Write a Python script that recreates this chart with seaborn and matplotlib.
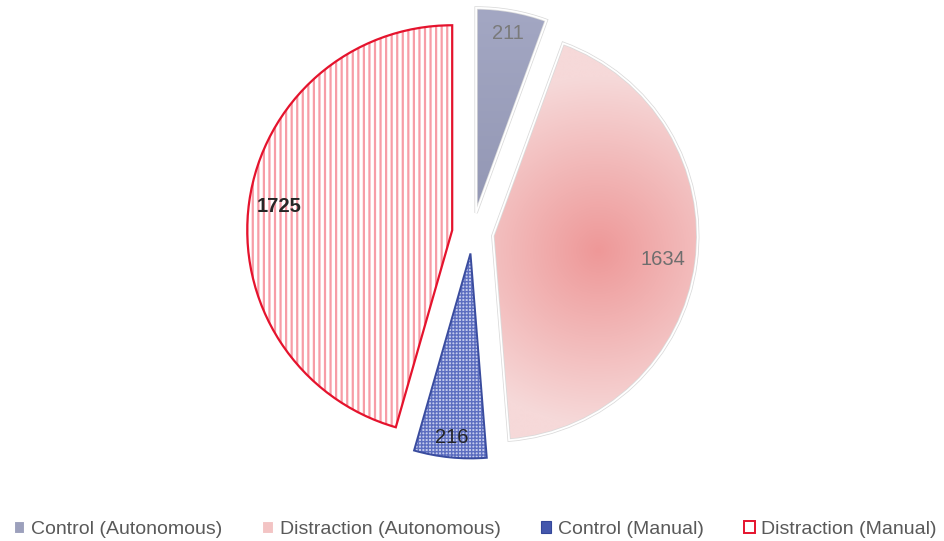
import numpy as np
import matplotlib
matplotlib.use("Agg")
import matplotlib.pyplot as plt
import seaborn as sns
from matplotlib.colors import LinearSegmentedColormap
from matplotlib.patches import Patch, Wedge

# Counts per condition
categories = ["Control (Autonomous)", "Distraction (Autonomous)",
              "Control (Manual)", "Distraction (Manual)"]
counts = [211, 1634, 216, 1725]

sns.set_theme(style="white")
plt.rcParams["font.family"] = ["Liberation Sans", "DejaVu Sans"]
plt.rcParams["hatch.linewidth"] = 1.5

fig = plt.figure(figsize=(9.45, 5.41), dpi=100)
ax = fig.add_axes([0.218, 0.0767, 0.564, 0.985])

wedges, _ = ax.pie(counts, startangle=90, counterclock=False,
                   explode=[0.1] * 4, radius=1.0)
ax.set_xlim(-1.3, 1.3)
ax.set_ylim(-1.3, 1.3)
ax.set_aspect("equal")
ax.axis("off")

# grid for gradient fills
n = 600
xs = np.linspace(-1.3, 1.3, n)
ys = np.linspace(1.3, -1.3, n)
X, Y = np.meshgrid(xs, ys)


def outline(w, color, lw, z=3):
    p = Wedge(w.center, w.r, w.theta1, w.theta2, fill=False,
              edgecolor=color, linewidth=lw, zorder=z)
    ax.add_patch(p)
    return p


def hatch_width(p, lw):
    if hasattr(p, "set_hatch_linewidth"):
        p.set_hatch_linewidth(lw)


# slice 1: vertical blue-grey gradient
w = wedges[0]
w.set_facecolor("#9CA0BC")
w.set_edgecolor("none")
cm1 = LinearSegmentedColormap.from_list("g1", ["#A3A7C3", "#9397B4"])
t = np.clip((1.1 - Y) / 1.0, 0, 1)
im = ax.imshow(cm1(t), extent=(-1.3, 1.3, -1.3, 1.3), zorder=1.5,
               interpolation="bilinear")
im.set_clip_path(w)
outline(w, "#DADADA", 2.4, 2.5)
outline(w, "white", 1.3)

# slice 2: radial pink gradient
w = wedges[1]
w.set_facecolor("#F3C4C4")
w.set_edgecolor("none")
mid = np.deg2rad((w.theta1 + w.theta2) / 2)
fx = w.center[0] + 0.52 * np.cos(mid)
fy = w.center[1] + 0.52 * np.sin(mid)
d = np.clip(np.hypot(X - fx, Y - fy) / 0.85, 0, 1)
cm2 = LinearSegmentedColormap.from_list("g2", ["#EE9898", "#F2B8B8", "#F6D9D9"])
im = ax.imshow(cm2(d), extent=(-1.3, 1.3, -1.3, 1.3), zorder=1.5,
               interpolation="bilinear")
im.set_clip_path(w)
outline(w, "#DADADA", 2.4, 2.5)
outline(w, "white", 1.3)

# slice 3: fine blue crosshatch with dark blue border
w = wedges[2]
w.set_facecolor("#C4CBEC")
w.set_edgecolor("#5D6EC0")
w.set_hatch("+++++")
w.set_linewidth(0)
hatch_width(w, 1.0)
outline(w, "#3A4C9E", 1.4)

# slice 4: red vertical stripes with strong red border
w = wedges[3]
w.set_facecolor("white")
w.set_edgecolor("#F79DA7")
w.set_hatch("|||")
w.set_linewidth(0)
hatch_width(w, 1.6)
outline(w, "#E5132D", 1.6)

# value labels
label_dist = [0.89, 0.84, 0.90, 0.85]
label_style = [dict(color="#7A7A7A"), dict(color="#6E6E6E"),
               dict(color="#262626"), dict(color="#262626", fontweight="bold")]
for w, v, dist, st in zip(wedges, counts, label_dist, label_style):
    a = np.deg2rad((w.theta1 + w.theta2) / 2)
    ax.text(w.center[0] + dist * np.cos(a), w.center[1] + dist * np.sin(a),
            str(v), ha="center", va="center", fontsize=14.5, zorder=5, **st)

handles = [
    Patch(facecolor="#9CA0BC", edgecolor="white", linewidth=0.8),
    Patch(facecolor="#F3C4C4", edgecolor="white", linewidth=0.8),
    Patch(facecolor="#4457AD", edgecolor="#34479A", linewidth=0.8),
    Patch(facecolor="white", edgecolor="#E5132D", linewidth=1.4),
]
leg = fig.legend(handles, categories, loc="center", bbox_to_anchor=(0.503, 0.021),
                 ncol=4, frameon=False, fontsize=14, handlelength=0.55,
                 handleheight=0.55, handletextpad=0.35, columnspacing=2.05,
                 borderaxespad=0, borderpad=0)
for txt in leg.get_texts():
    txt.set_color("#595959")

fig.savefig("out.png", dpi=100)
